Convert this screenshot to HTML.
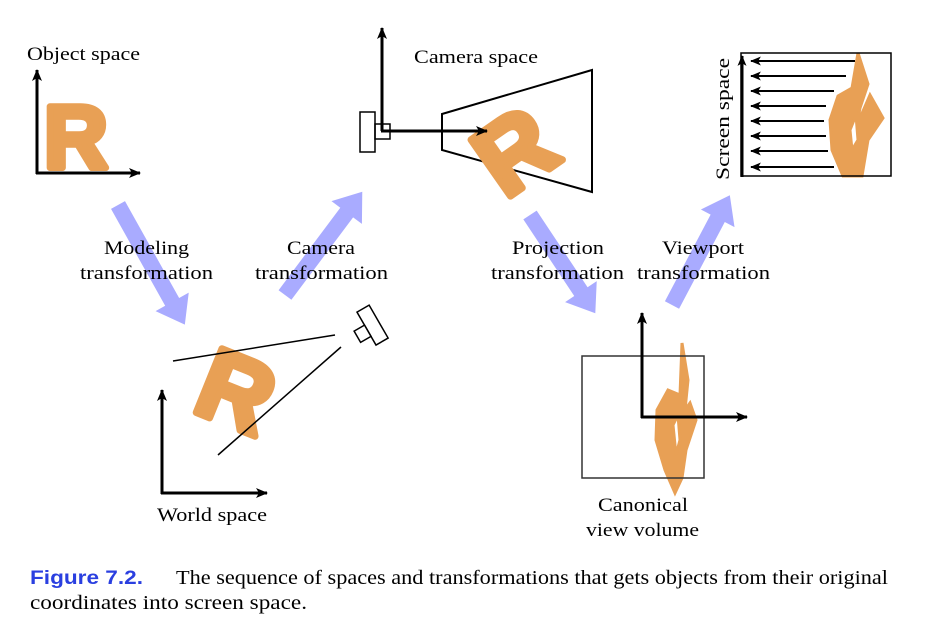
<!DOCTYPE html>
<html><head><meta charset="utf-8"><style>
html,body{margin:0;padding:0;background:#fff;}
svg{display:block}
.l{font-family:"Liberation Serif",serif;font-size:19px;fill:#000}
.R{font-family:"Liberation Sans",sans-serif;font-weight:bold;fill:#e8a055;stroke:#e8a055;stroke-linejoin:round}
</style></head><body>
<svg width="947" height="630" viewBox="0 0 947 630" xmlns="http://www.w3.org/2000/svg">
<defs>
<marker id="ah" viewBox="0 0 12 10" refX="11" refY="5" markerWidth="12" markerHeight="10" markerUnits="userSpaceOnUse" orient="auto"><path d="M0,0 L12,5 L0,10 L3,5 Z" fill="#000"/></marker>
<marker id="ah2" viewBox="0 0 12 10" refX="11" refY="5" markerWidth="11" markerHeight="9" markerUnits="userSpaceOnUse" orient="auto"><path d="M0,0 L12,5 L0,10 L3,5 Z" fill="#000"/></marker>
</defs>

<g fill="#a9abff">
<path transform="translate(118,205) rotate(60.8)" d="M0,-8 L111,-8 L111,-19 L137,0 L111,19 L111,8 L0,8 Z"/>
<path transform="translate(285,295) rotate(-53.2)" d="M0,-8 L103,-8 L103,-19 L129,0 L103,19 L103,8 L0,8 Z"/>
<path transform="translate(530,215) rotate(56.4)" d="M0,-8 L92,-8 L92,-19 L118,0 L92,19 L92,8 L0,8 Z"/>
<path transform="translate(672,305) rotate(-62.2)" d="M0,-8 L98,-8 L98,-19 L124,0 L98,19 L98,8 L0,8 Z"/>
</g>

<!-- Object space -->
<text class="l" x="27" y="60" textLength="113" lengthAdjust="spacingAndGlyphs">Object space</text>
<text class="R" x="0" y="0" font-size="96" stroke-width="7" transform="translate(44,168) scale(0.92,0.93)">R</text>
<line x1="37" y1="174" x2="37" y2="70" stroke="#000" stroke-width="3" marker-end="url(#ah)"/>
<line x1="36" y1="173" x2="140" y2="173" stroke="#000" stroke-width="3" marker-end="url(#ah)"/>

<text class="l" x="104" y="254" textLength="85" lengthAdjust="spacingAndGlyphs">Modeling</text>
<text class="l" x="80" y="279" textLength="133" lengthAdjust="spacingAndGlyphs">transformation</text>
<text class="l" x="287" y="254" textLength="68" lengthAdjust="spacingAndGlyphs">Camera</text>
<text class="l" x="255" y="279" textLength="133" lengthAdjust="spacingAndGlyphs">transformation</text>
<text class="l" x="512" y="254" textLength="92" lengthAdjust="spacingAndGlyphs">Projection</text>
<text class="l" x="491" y="279" textLength="133" lengthAdjust="spacingAndGlyphs">transformation</text>
<text class="l" x="662" y="254" textLength="82" lengthAdjust="spacingAndGlyphs">Viewport</text>
<text class="l" x="637" y="279" textLength="133" lengthAdjust="spacingAndGlyphs">transformation</text>

<!-- Camera space -->
<text class="l" x="414" y="63" textLength="124" lengthAdjust="spacingAndGlyphs">Camera space</text>
<polygon points="442,114 592,70 592,192 442,150" fill="none" stroke="#000" stroke-width="2"/>
<text class="R" x="0" y="0" font-size="100" stroke-width="7" transform="translate(505,200) rotate(-35)">R</text>
<rect x="360" y="112" width="15" height="40" fill="#fff" stroke="#000" stroke-width="1.5"/>
<rect x="375" y="124" width="15" height="15" fill="none" stroke="#000" stroke-width="1.5"/>
<line x1="382" y1="131" x2="382" y2="28" stroke="#000" stroke-width="3" marker-end="url(#ah)"/>
<line x1="381" y1="131" x2="487" y2="131" stroke="#000" stroke-width="3" marker-end="url(#ah)"/>

<!-- Screen space -->
<text class="l" transform="translate(729,180) rotate(-90)" textLength="122" lengthAdjust="spacingAndGlyphs">Screen space</text>
<path d="M858,53 L868,84 L860,108 L857,125 L870,95 L883,118 L868,140 L862,176 L843,176 L832,150 L830,120 L838,96 L852,88 Z M850,130 L856,115 L858,140 L852,150 Z" fill="#e8a055" fill-rule="evenodd" stroke="#e8a055" stroke-width="3"/>
<rect x="741" y="53" width="150" height="123" fill="none" stroke="#000" stroke-width="1.5"/>
<line x1="742" y1="177" x2="742" y2="56" stroke="#000" stroke-width="3" marker-end="url(#ah2)"/>
<g stroke="#000" stroke-width="2" marker-end="url(#ah2)">
<line x1="855" y1="61" x2="751" y2="61"/>
<line x1="846" y1="76" x2="751" y2="76"/>
<line x1="834" y1="91" x2="751" y2="91"/>
<line x1="826" y1="106" x2="751" y2="106"/>
<line x1="824" y1="121" x2="751" y2="121"/>
<line x1="826" y1="136" x2="751" y2="136"/>
<line x1="828" y1="151" x2="751" y2="151"/>
<line x1="834" y1="167" x2="751" y2="167"/>
</g>

<!-- World space -->
<text class="R" x="0" y="0" font-size="100" stroke-width="7" transform="translate(190,410) rotate(22)">R</text>
<line x1="173" y1="361" x2="335" y2="335" stroke="#000" stroke-width="1.5"/>
<line x1="218" y1="455" x2="341" y2="347" stroke="#000" stroke-width="1.5"/>
<g transform="translate(365,326) rotate(-30)" fill="#fff" stroke="#000" stroke-width="1.5">
<rect x="0" y="-16" width="14" height="38"/>
<rect x="-12" y="-1" width="12" height="13"/>
</g>
<line x1="162" y1="494" x2="162" y2="390" stroke="#000" stroke-width="3" marker-end="url(#ah)"/>
<line x1="161" y1="493" x2="267" y2="493" stroke="#000" stroke-width="3" marker-end="url(#ah)"/>
<text class="l" x="157" y="521" textLength="110" lengthAdjust="spacingAndGlyphs">World space</text>

<!-- Canonical -->
<path d="M682,343 L688,380 L685,410 L690,403 L696,420 L686,450 L682,478 L675,493 L665,470 L656,440 L657,410 L668,390 L680,395 Z M673,425 L678,415 L680,440 L676,455 Z" fill="#e8a055" fill-rule="evenodd" stroke="#e8a055" stroke-width="3"/>
<rect x="582" y="356" width="122" height="122" fill="none" stroke="#333" stroke-width="1.5"/>
<line x1="642" y1="418" x2="642" y2="313" stroke="#000" stroke-width="3" marker-end="url(#ah)"/>
<line x1="641" y1="417" x2="747" y2="417" stroke="#000" stroke-width="3" marker-end="url(#ah)"/>
<text class="l" x="598" y="511" textLength="90" lengthAdjust="spacingAndGlyphs">Canonical</text>
<text class="l" x="586" y="536" textLength="113" lengthAdjust="spacingAndGlyphs">view volume</text>

<!-- caption -->
<text x="30" y="584" font-family="Liberation Sans,sans-serif" font-weight="bold" font-size="19" fill="#2a3fe0" textLength="113" lengthAdjust="spacingAndGlyphs">Figure 7.2.</text>
<text x="176" y="584" font-family="Liberation Serif,serif" font-size="20" textLength="712" lengthAdjust="spacingAndGlyphs">The sequence of spaces and transformations that gets objects from their original</text>
<text x="30" y="609" font-family="Liberation Serif,serif" font-size="20" textLength="277" lengthAdjust="spacingAndGlyphs">coordinates into screen space.</text>
</svg>
</body></html>
